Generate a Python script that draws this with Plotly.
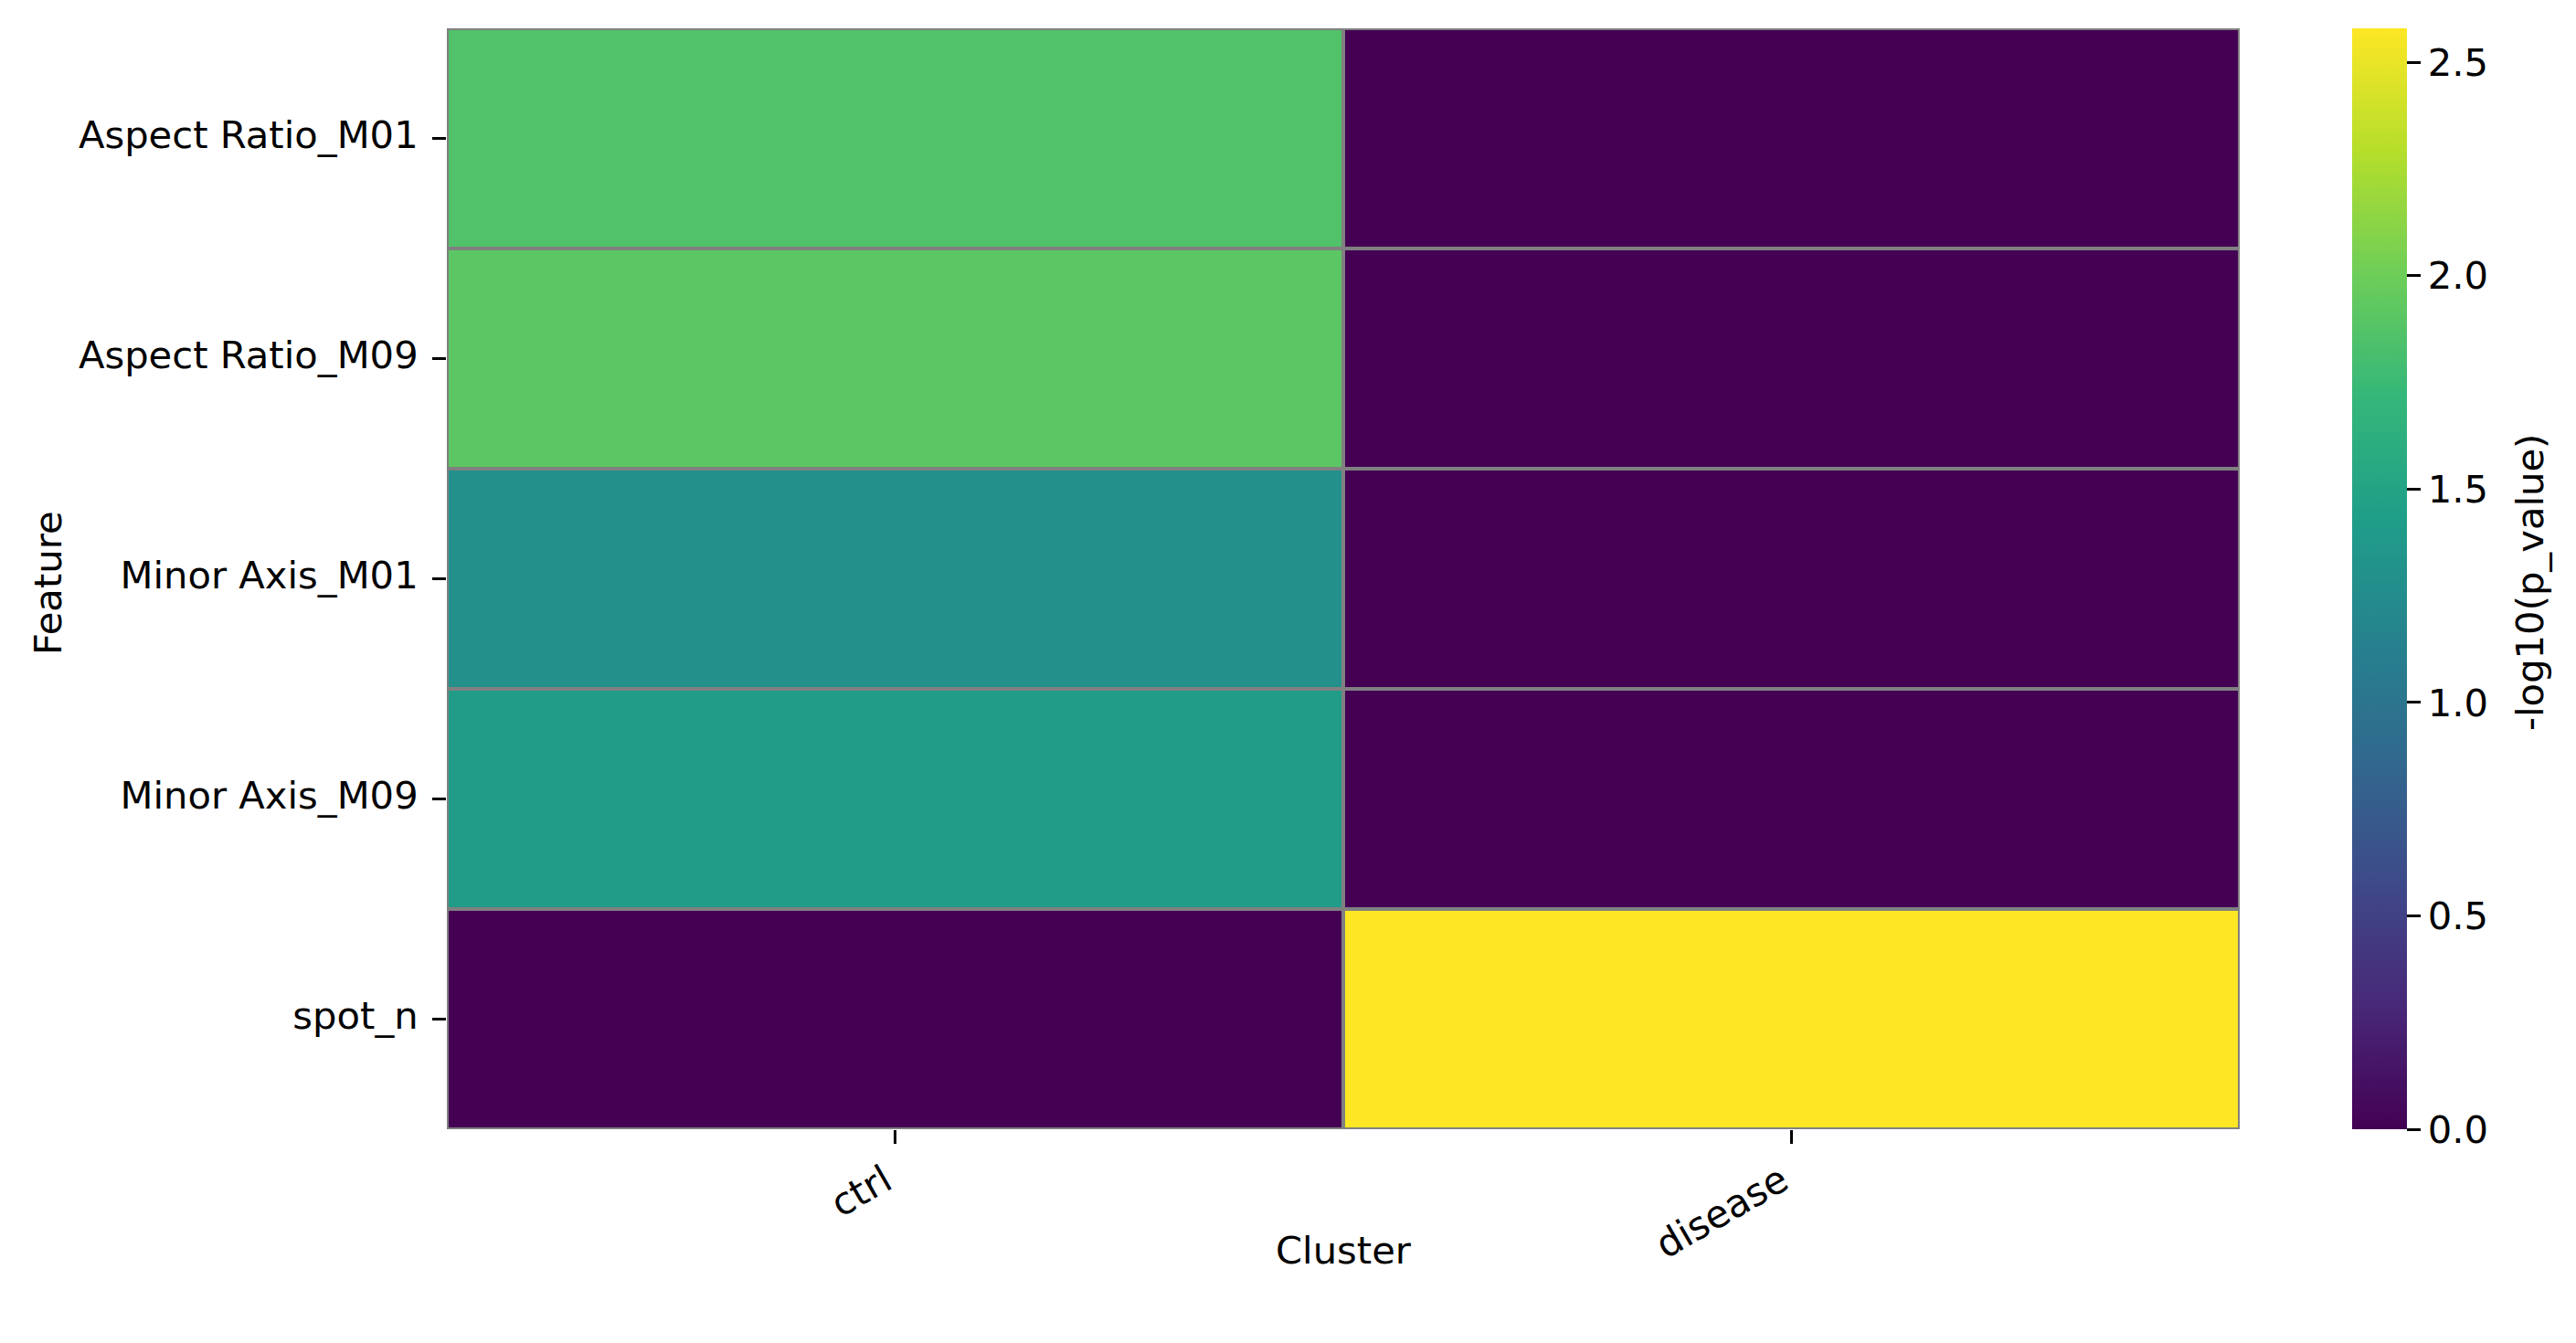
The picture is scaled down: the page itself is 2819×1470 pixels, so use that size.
import plotly.graph_objects as go

# Data
features = ["Aspect Ratio_M01", "Aspect Ratio_M09", "Minor Axis_M01", "Minor Axis_M09", "spot_n"]
clusters = ["ctrl", "disease"]
ctrl_vals = [1.86, 1.91, 1.29, 1.41, 0.0]
disease_vals = [0.0, 0.0, 0.0, 0.0, 2.58]
cbar_ticks = [0.0, 0.5, 1.0, 1.5, 2.0, 2.5]

z = [[c, d] for c, d in zip(ctrl_vals, disease_vals)]

# page has an 8px body margin; target pixel positions are given in window coords
OFF = 8
W, H = 2819 - 2 * OFF, 1470 - 2 * OFF
L, R, T, B = 489, 2451, 31, 1236          # plot area in window coords
FS = 41.7
FONT = "DejaVu Sans"

def px_x(x):
    return (x - L) / (R - L)

def px_y(y):
    return (B - y) / (B - T)

fig = go.Figure()
fig.add_trace(go.Heatmap(
    z=z, x=clusters, y=features,
    colorscale="Viridis", zmin=0, zmax=max(max(ctrl_vals), max(disease_vals)),
    xgap=4, ygap=4,
    colorbar=dict(
        x=px_x(2574), xanchor="left", xref="paper",
        y=0.5, yanchor="middle", len=1.0, lenmode="fraction",
        xpad=0, ypad=0,
        thickness=60, thicknessmode="pixels",
        outlinewidth=0,
        ticks="outside", ticklen=15, tickwidth=3, tickcolor="black",
        tickvals=cbar_ticks, tickformat=".1f",
        tickfont=dict(family=FONT, size=FS, color="black"),
    ),
    hoverongaps=False,
))

fig.update_layout(
    width=W, height=H,
    margin=dict(l=L - OFF, r=W - (R - OFF), t=T - OFF, b=H - (B - OFF), pad=0),
    paper_bgcolor="white",
    plot_bgcolor="#808080",
    font=dict(family=FONT, size=FS, color="black"),
    xaxis=dict(
        type="category", showgrid=False, zeroline=False, showline=False,
        ticks="outside", ticklen=15, tickwidth=3, tickcolor="black",
        tickangle=-30, tickfont=dict(family=FONT, size=FS, color="black"),
        ticklabelshift=-11,
        automargin=False,
    ),
    yaxis=dict(
        type="category", autorange="reversed", showgrid=False, zeroline=False,
        showline=False,
        ticks="outside", ticklen=15, tickwidth=3, tickcolor="black",
        tickfont=dict(family=FONT, size=FS, color="black"),
        ticklabelstandoff=7, ticklabelshift=4,
        automargin=False,
    ),
    annotations=[
        dict(text="Cluster", xref="paper", yref="paper",
             x=0.5, y=px_y(1368), xanchor="center", yanchor="middle",
             showarrow=False, font=dict(family=FONT, size=FS, color="black")),
        dict(text="Feature", xref="paper", yref="paper", textangle=-90,
             x=px_x(52), y=px_y(638),
             xanchor="center", yanchor="middle",
             showarrow=False, font=dict(family=FONT, size=FS, color="black")),
        dict(text="-log10(p_value)", xref="paper", yref="paper", textangle=-90,
             x=px_x(2768), y=px_y(638),
             xanchor="center", yanchor="middle",
             showarrow=False, font=dict(family=FONT, size=FS, color="black")),
    ],
)

fig.write_html("out.html")
